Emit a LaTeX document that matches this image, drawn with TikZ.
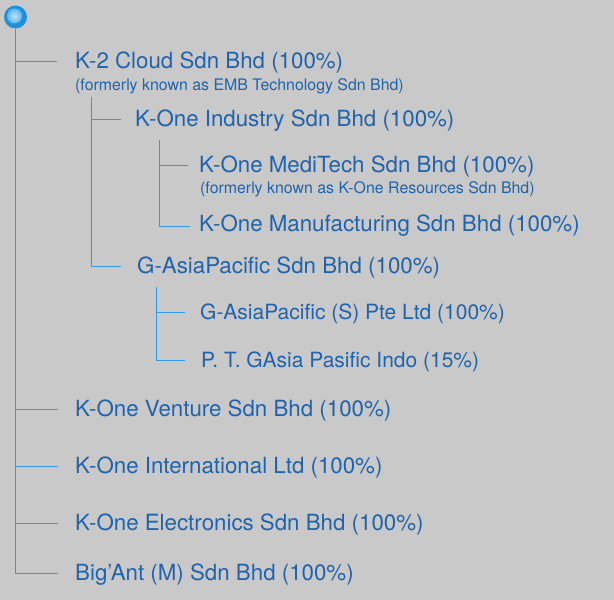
\documentclass[tikz,border=0pt]{standalone}
\usepackage{xcolor}
\usepackage{fontspec}
\setmainfont{TeX Gyre Heros}
\definecolor{bgGray}{HTML}{C9C9C9}
\definecolor{lineBlue}{HTML}{2E9BE8}
\definecolor{textBlue}{HTML}{1F63AD}
\definecolor{dotBlue}{HTML}{1E8FDA}
\definecolor{dotLight}{HTML}{5DB6EE}

\begin{document}
\begin{tikzpicture}[x=1pt,y=-1pt]
\tikzstyle{company}=[anchor=base west,inner sep=0pt,text=textBlue,font=\fontsize{22.3}{26}\selectfont];
\tikzstyle{gasia}=[company,font=\fontsize{21}{25}\selectfont];
\tikzstyle{formerly}=[anchor=base west,inner sep=0pt,text=textBlue,font=\fontsize{15.9}{19}\selectfont];
\tikzstyle{tree}=[lineBlue,line width=1.1pt];

\fill[bgGray] (0,0) rectangle (614,600);
\useasboundingbox (0,0) rectangle (614,600);

% dot at the root
\node[circle,minimum size=23pt,inner sep=0pt,fill=dotBlue] (root) at (15.5,17) {};
\shade[inner color=dotLight!40!white,outer color=dotLight] (14.5,16) circle (7.5);

% companies
\node[company] (A)at(75,68) {K-2 Cloud Sdn Bhd (100\%)};
\node[formerly] (Af)at(75,90) {(formerly known as EMB Technology Sdn Bhd)};
\node[company] (B)at(135,126) {K-One Industry Sdn Bhd (100\%)};
\node[company] (C)at(199,172) {K-One MediTech Sdn Bhd (100\%)};
\node[formerly] (Cf)at(200,193) {(formerly known as K-One Resources Sdn Bhd)};
\node[company] (D)at(199,231) {K-One Manufacturing Sdn Bhd (100\%)};
\node[company] (E)at(137,273) {G-AsiaPacific Sdn Bhd (100\%)};
\node[gasia] (F)at(200,319) {G-AsiaPacific (S) Pte Ltd (100\%)};
\node[gasia] (G)at(201,367) {P. T. GAsia Pasific Indo (15\%)};
\node[company] (H)at(75,416) {K-One Venture Sdn Bhd (100\%)};
\node[company] (I)at(75,473) {K-One International Ltd (100\%)};
\node[company] (J)at(75,530) {K-One Electronics Sdn Bhd (100\%)};
\node[company] (K)at(75,580) {Big’Ant (M) Sdn Bhd (100\%)};

% tree lines
\coordinate (a) at (15.5,61.5);
\coordinate (h) at (15.5,409.5);
\coordinate (i) at (15.5,466.5);
\coordinate (j) at (15.5,523.5);
\coordinate (k) at (15.5,573.5);
\coordinate (b0) at (91.5,97);
\coordinate (b) at (91.5,119.5);
\coordinate (e) at (91.5,266.5);
\coordinate (c0) at (159.5,140);
\coordinate (c) at (159.5,165.5);
\coordinate (d) at (159.5,226.5);
\coordinate (f0) at (156.5,287);
\coordinate (f) at (156.5,312.5);
\coordinate (g) at (156.5,360.5);

\draw[tree] (root.south)--(k);
\draw[tree] (a)--++(41,0);
\draw[tree] (h)--++(42,0);
\draw[tree] (i)--++(42,0);
\draw[tree] (j)--++(42,0);
\draw[tree] (k)--++(42,0);
\draw[tree] (b0)--(e);
\draw[tree] (b)--++(29,0);
\draw[tree] (e)--++(29,0);
\draw[tree] (c0)--(d);
\draw[tree] (c)--++(28,0);
\draw[tree] (d)--++(30,0);
\draw[tree] (f0)--(g);
\draw[tree] (f)--++(28,0);
\draw[tree] (g)--++(28,0);
\end{tikzpicture}
\end{document}
